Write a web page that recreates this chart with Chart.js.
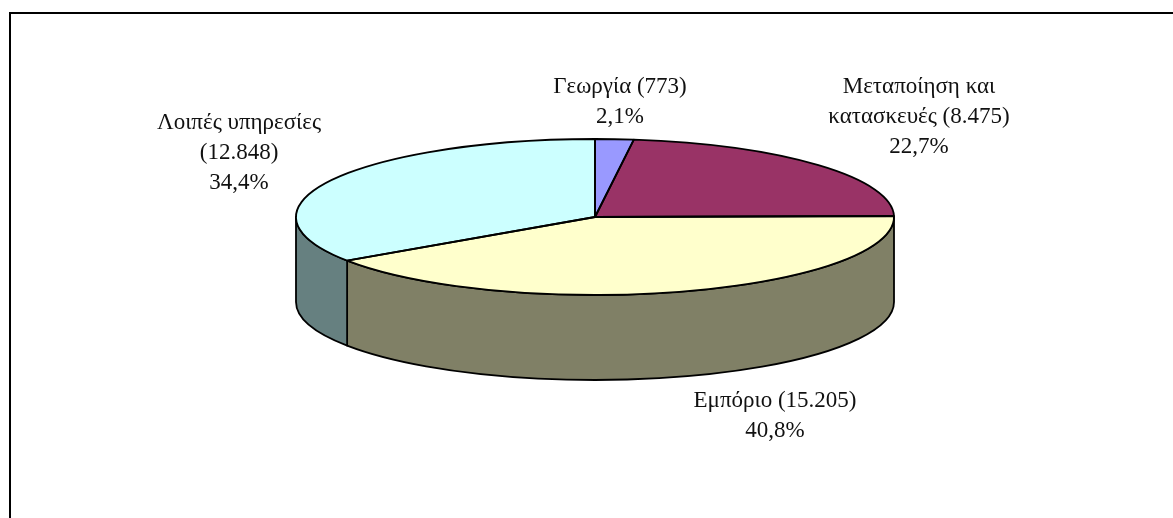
<!DOCTYPE html>
<html lang="el">
<head>
<meta charset="utf-8">
<style>html,body{margin:0;padding:0;background:#fff}#w{width:1173px;height:518px;position:relative}</style>
<script src="https://cdn.jsdelivr.net/npm/chart.js@4"></script>
</head>
<body>
<div id="w"><canvas id="c" width="1173" height="518"></canvas></div>
<script>
const categories = ['Γεωργία', 'Μεταποίηση και κατασκευές', 'Εμπόριο', 'Λοιπές υπηρεσίες'];
const values = [773, 8475, 15205, 12848];
const labelLines = [
  ['Γεωργία (773)', '2,1%'],
  ['Μεταποίηση και', 'κατασκευές (8.475)', '22,7%'],
  ['Εμπόριο (15.205)', '40,8%'],
  ['Λοιπές υπηρεσίες', '(12.848)', '34,4%']
];
const topColors = ['#9999FF', '#993366', '#FFFFCC', '#CCFFFF'];
const sideColors = ['#666699', '#4C1933', '#808066', '#668080'];

const RY_RATIO = 78 / 299, DEPTH = 85, LINE = 1.8;
const labelAnchors = [[620, 87], [919, 87], [775, 401], [239, 123]];

const pie3d = {
  id: 'pie3d',
  beforeDatasetsDraw(chart) {
    const ctx = chart.ctx, arcs = chart.getDatasetMeta(0).data;
    // side wall: only the part of each slice facing the viewer (0..PI on canvas)
    arcs.forEach((arc, i) => {
      const rx = arc.outerRadius, ry = rx * RY_RATIO;
      const a0 = Math.max(arc.startAngle, 0), a1 = Math.min(arc.endAngle, Math.PI);
      if (a1 <= a0) return;
      ctx.save();
      ctx.beginPath();
      ctx.ellipse(arc.x, arc.y, rx, ry, 0, a0, a1);
      ctx.ellipse(arc.x, arc.y + DEPTH, rx, ry, 0, a1, a0, true);
      ctx.closePath();
      ctx.fillStyle = sideColors[i];
      ctx.fill();
      ctx.lineWidth = LINE;
      ctx.strokeStyle = '#000';
      ctx.lineJoin = 'round';
      ctx.stroke();
      ctx.restore();
    });
    const a = arcs[0];
    ctx.save();
    ctx.translate(0, a.y);
    ctx.scale(1, RY_RATIO);
    ctx.translate(0, -a.y);
  },
  afterDatasetsDraw(chart) {
    const ctx = chart.ctx, arcs = chart.getDatasetMeta(0).data;
    ctx.restore();
    ctx.save();
    ctx.lineWidth = LINE;
    ctx.strokeStyle = '#000';
    ctx.lineJoin = 'round';
    arcs.forEach((arc) => {
      const rx = arc.outerRadius, ry = rx * RY_RATIO;
      ctx.beginPath();
      ctx.moveTo(arc.x, arc.y);
      ctx.ellipse(arc.x, arc.y, rx, ry, 0, arc.startAngle, arc.endAngle);
      ctx.closePath();
      ctx.stroke();
    });
    ctx.restore();
  },
  afterDraw(chart) {
    const ctx = chart.ctx;
    ctx.save();
    // frame: only the top and left rules are inside the picture
    ctx.fillStyle = '#000';
    ctx.fillRect(9, 12, 1164, 2);
    ctx.fillRect(9, 12, 2, 506);
    ctx.fillStyle = '#111';
    ctx.font = '23px "Liberation Serif"';
    ctx.textAlign = 'center';
    ctx.textBaseline = 'middle';
    labelLines.forEach((lines, i) => {
      lines.forEach((t, j) => ctx.fillText(t, labelAnchors[i][0], labelAnchors[i][1] + j * 30));
    });
    ctx.restore();
  }
};

new Chart(document.getElementById('c'), {
  type: 'pie',
  data: {
    labels: categories,
    datasets: [{ data: values, backgroundColor: topColors, borderWidth: 0, clip: false }]
  },
  options: {
    responsive: false,
    animation: false,
    radius: 299,
    layout: { padding: { left: 17, bottom: 84 } },
    plugins: { legend: { display: false }, tooltip: { enabled: false }, title: { display: false } }
  },
  plugins: [pie3d]
});
</script>
</body>
</html>
